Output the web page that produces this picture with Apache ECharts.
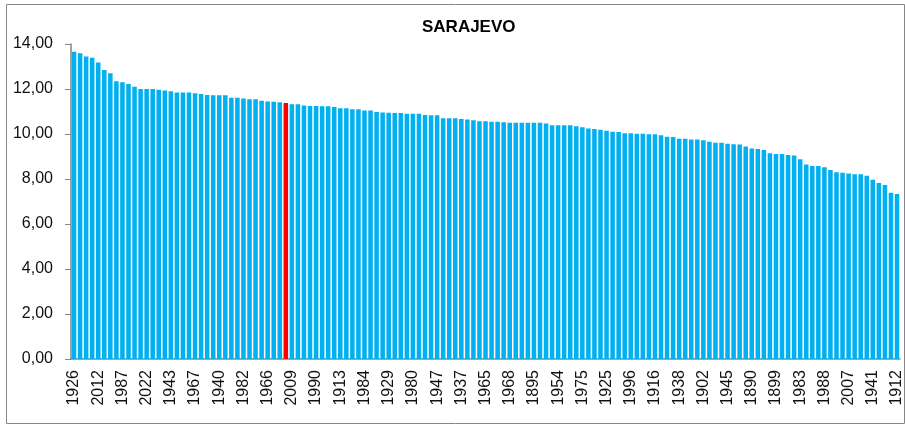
<!DOCTYPE html>
<html>
<head>
<meta charset="utf-8">
<script src="https://cdn.jsdelivr.net/npm/echarts@6/dist/echarts.min.js"></script>
<style>
  html, body { margin: 0; padding: 0; background: #fff; }
  #chart { width: 905px; height: 426px; }
</style>
</head>
<body>
<div id="chart"></div>
<script>
// years, sorted by mean temperature (only every 4th year is labelled on the axis)
var years = [
  '1926','2024','2023','2019','2012','2018','2014','2015','1987','2000','2011','2017',
  '2022','2008','1994','1950','1943','2021','2003','2002','1967','1998','2010','1952',
  '1940','1934','1961','2016','1982','1928','1946','1951','1966','1999','1939','2020',
  '2009','1992','2001','1930','1990','1997','1936','1944','1913','1948','1960','1963',
  '1984','2013','1949','1971','1929','1959','1957','2006','1980','1931','1958','1981',
  '1947','1924','1932','1935','1937','1964','1933','1955','1965','1920','1956','1979',
  '1968','1969','1972','1986','1895','1927','1962','1970','1954','1991','1953','1973',
  '1975','1908','1918','1974','1925','1985','1976','1989','1996','1977','1921','1978',
  '1916','1903','1923','1993','1938','1904','1906','1922','1902','1914','1917','1995',
  '1945','1911','1909','1919','1890','1898','1910','1888','1899','1905','1907','1915',
  '1983','1894','1896','2004','1988','1901','1891','2005','2007','1889','1893','1900',
  '1941','1892','1897','1942','1912'
];

var temps = [
  13.66, 13.59, 13.45, 13.39, 13.18, 12.84, 12.70, 12.34, 12.30, 12.22, 12.10, 12.00,
  12.00, 12.00, 11.97, 11.93, 11.90, 11.85, 11.85, 11.84, 11.81, 11.78, 11.73, 11.72,
  11.72, 11.72, 11.61, 11.61, 11.58, 11.54, 11.54, 11.48, 11.44, 11.43, 11.41, 11.38,
  11.32, 11.32, 11.27, 11.24, 11.24, 11.23, 11.23, 11.20, 11.14, 11.14, 11.10, 11.10,
  11.04, 11.04, 10.98, 10.96, 10.95, 10.93, 10.93, 10.90, 10.90, 10.90, 10.84, 10.83,
  10.83, 10.70, 10.70, 10.70, 10.67, 10.64, 10.61, 10.57, 10.57, 10.55, 10.55, 10.52,
  10.50, 10.50, 10.50, 10.50, 10.50, 10.50, 10.47, 10.39, 10.39, 10.39, 10.39, 10.34,
  10.30, 10.25, 10.22, 10.19, 10.15, 10.10, 10.09, 10.03, 10.03, 10.01, 10.01, 9.99,
  9.99, 9.94, 9.88, 9.87, 9.79, 9.79, 9.76, 9.76, 9.72, 9.66, 9.61, 9.61,
  9.57, 9.54, 9.53, 9.44, 9.36, 9.33, 9.29, 9.14, 9.11, 9.11, 9.07, 9.05,
  8.88, 8.64, 8.58, 8.58, 8.52, 8.40, 8.30, 8.28, 8.24, 8.21, 8.21, 8.15,
  7.97, 7.82, 7.73, 7.39, 7.33
];

// the highlighted year (red bar)
var markedYear = '2020';

var yTicks = [0, 2, 4, 6, 8, 10, 12, 14];

var fnt = "'Liberation Sans', Arial, sans-serif";

var myChart = echarts.init(document.getElementById('chart'));

var barData = temps.map(function (v, i) {
  if (years[i] === markedYear) {
    return { value: v, itemStyle: { color: '#ff0000' } };
  }
  return v;
});

var option = {
  animation: false,
  title: {
    text: 'SARAJEVO',
    left: 417,
    top: 14,
    textStyle: { fontFamily: fnt, fontSize: 17, fontWeight: 'bold', color: '#000' }
  },
  graphic: [{
    type: 'rect',
    shape: { x: 6.5, y: 4.5, width: 898, height: 419 },
    style: { fill: 'none', stroke: '#868686', lineWidth: 1 },
    silent: true
  }],
  grid: { left: 71, right: 4, top: 44, bottom: 67 },
  xAxis: {
    type: 'category',
    data: years,
    axisLine: { lineStyle: { color: '#868686', width: 1.5 } },
    axisTick: { interval: 0, length: 5, lineStyle: { color: '#868686' } },
    axisLabel: {
      interval: 3,
      rotate: 90,
      margin: 11,
      fontFamily: fnt,
      fontSize: 16,
      color: '#111'
    },
    splitLine: { show: false }
  },
  yAxis: {
    type: 'value',
    min: yTicks[0],
    max: yTicks[yTicks.length - 1],
    interval: 2,
    axisLine: { show: true, lineStyle: { color: '#868686', width: 1.5 } },
    axisTick: { show: true, length: 6, lineStyle: { color: '#868686' } },
    axisLabel: {
      margin: 18,
      fontFamily: fnt,
      fontSize: 16,
      color: '#111',
      formatter: function (v) { return v.toFixed(2).replace('.', ','); }
    },
    splitLine: { show: false }
  },
  series: [{
    name: 'SARAJEVO',
    type: 'bar',
    data: barData,
    barCategoryGap: '25%',
    itemStyle: { color: '#00b0f0' }
  }]
};

myChart.setOption(option);
</script>
</body>
</html>
